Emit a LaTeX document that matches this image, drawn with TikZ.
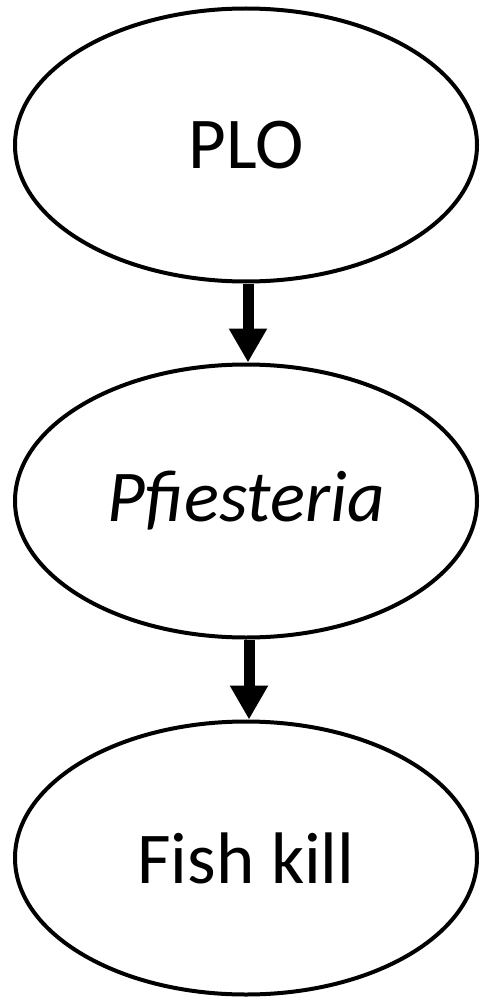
\documentclass[tikz,border=0pt]{standalone}
\usepackage{fontspec}
\setmainfont{Carlito}
\usetikzlibrary{shapes.geometric,arrows.meta}
\begin{document}
\begin{tikzpicture}[x=1pt,y=-1pt,
  oval/.style={draw=black, line width=4pt, ellipse, minimum width=462pt, minimum height=273pt, inner sep=0pt, font=\fontsize{73}{80}\selectfont},
  flow/.style={line width=11pt, -{Triangle[width=36pt,length=34pt]}}]
\useasboundingbox (0,0) rectangle (481,1003);
\node[oval] (plo) at (246,145) {PLO};
\node[oval] (pf) at (246,501) {\itshape Pfiesteria};
\node[oval] (fk) at (246,858) {Fish kill};
\draw[flow] ([xshift=2pt]plo.south) -- ([xshift=2pt]pf.north);
\draw[flow] ([xshift=3pt]pf.south) -- ([xshift=3pt]fk.north);
\end{tikzpicture}
\end{document}
